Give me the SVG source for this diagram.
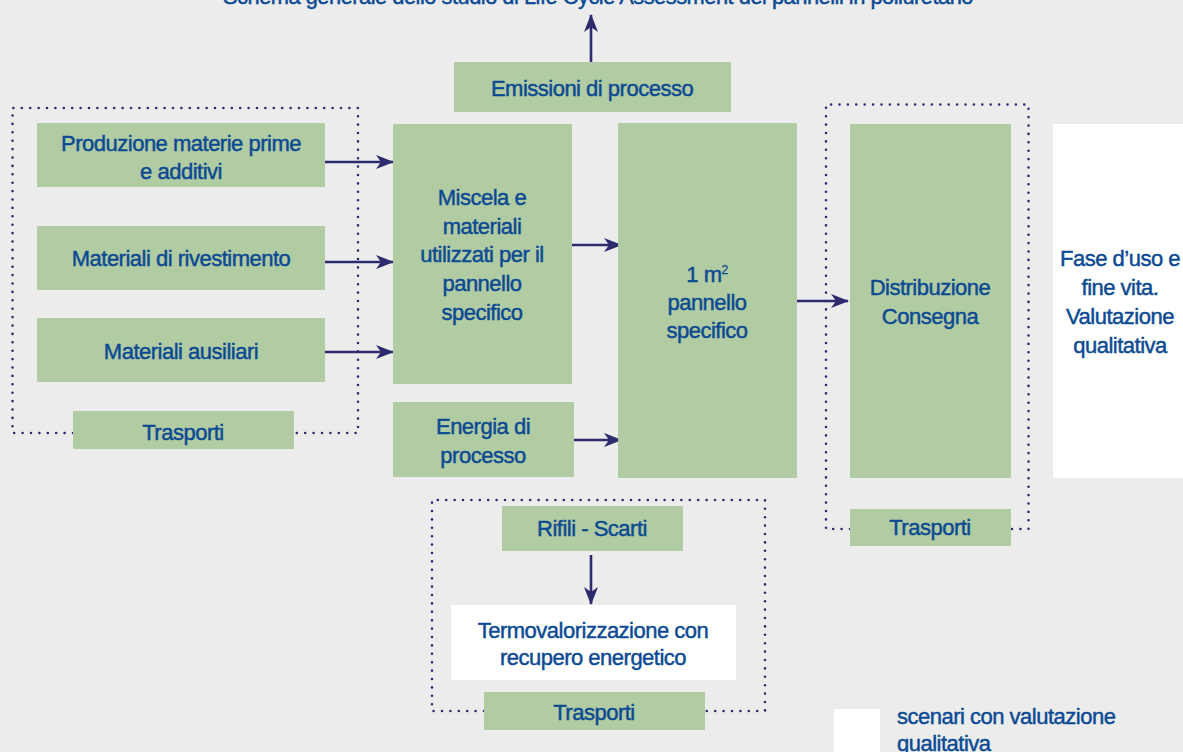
<svg xmlns="http://www.w3.org/2000/svg" width="1183" height="752" viewBox="0 0 1183 752">
<defs>
<style>
.bg{fill:#ececec}
.g{fill:#b1cba2}
.w{fill:#ffffff}
.t{font-family:"Liberation Sans",Arial,sans-serif;font-size:22px;letter-spacing:-0.5px;fill:#0b4a93;stroke:#0b4a93;stroke-width:0.45;text-anchor:middle}
.tl{text-anchor:start}
.dot{fill:none;stroke:#2d2a6e;stroke-width:2.6;stroke-linecap:round;stroke-dasharray:0 8.4}
.ar{fill:none;stroke:#2d2a6e;stroke-width:2.6}
</style>
<marker id="ah" viewBox="0 0 18 14" refX="17" refY="7" markerWidth="18" markerHeight="14" markerUnits="userSpaceOnUse" orient="auto">
<path d="M0,0 L18,7 L0,14 L5,7 Z" fill="#2d2a6e"/>
</marker>
</defs>
<rect class="bg" x="0" y="0" width="1183" height="752"/>
<text class="t" x="598" y="4" textLength="750" lengthAdjust="spacingAndGlyphs">Schema generale dello studio di Life Cycle Assessment dei pannelli in poliuretano</text>

<g id="frames">
<path class="dot" d="M73,433 L12.5,433 L12.5,108 L358,108 L358,433 L294,433"/>
<path class="dot" d="M850,529 L826,529 L826,104.5 L1028.5,104.5 L1028.5,529 L1011,529"/>
<path class="dot" d="M484,711 L432,711 L432,500 L765,500 L765,711 L705,711"/>
</g>

<g id="connectors">
<line class="ar" x1="325" y1="162" x2="393" y2="162" marker-end="url(#ah)"/>
<line class="ar" x1="325" y1="262" x2="393" y2="262" marker-end="url(#ah)"/>
<line class="ar" x1="325" y1="352" x2="393" y2="352" marker-end="url(#ah)"/>
<line class="ar" x1="572" y1="245" x2="621" y2="245" marker-end="url(#ah)"/>
<line class="ar" x1="570" y1="440" x2="621" y2="440" marker-end="url(#ah)"/>
<line class="ar" x1="797" y1="301" x2="848" y2="301" marker-end="url(#ah)"/>
<line class="ar" x1="591" y1="555" x2="591" y2="604" marker-end="url(#ah)"/>
<line class="ar" x1="591" y1="62" x2="591" y2="15" marker-end="url(#ah)"/>
</g>

<g id="emissioni"><rect class="g" x="454" y="62" width="277" height="50"/><text class="t" x="592" y="96">Emissioni di processo</text></g>
<g id="produzione"><rect class="g" x="37" y="123" width="288" height="64"/><text class="t" x="181" y="151">Produzione materie prime</text><text class="t" x="181" y="179">e additivi</text></g>
<g id="rivestimento"><rect class="g" x="37" y="226" width="288" height="64"/><text class="t" x="181" y="266">Materiali di rivestimento</text></g>
<g id="ausiliari"><rect class="g" x="37" y="318" width="288" height="64"/><text class="t" x="181" y="359">Materiali ausiliari</text></g>
<g id="trasporti1"><rect class="g" x="73" y="411" width="221" height="38"/><text class="t" x="183" y="440">Trasporti</text></g>
<g id="miscela"><rect class="g" x="393" y="124" width="179" height="260"/>
<text class="t" x="482" y="205">Miscela e</text><text class="t" x="482" y="234">materiali</text><text class="t" x="482" y="262">utilizzati per il</text><text class="t" x="482" y="291">pannello</text><text class="t" x="482" y="320">specifico</text></g>
<g id="energia"><rect class="g" x="393" y="402" width="181" height="75"/><text class="t" x="483" y="434">Energia di</text><text class="t" x="483" y="463">processo</text></g>
<g id="pannello"><rect class="g" x="618" y="123" width="179" height="355"/>
<text class="t" x="707" y="282">1 m<tspan dy="-8" font-size="12" stroke-width="0.3">2</tspan></text><text class="t" x="707" y="310">pannello</text><text class="t" x="707" y="338">specifico</text></g>
<g id="distribuzione"><rect class="g" x="850" y="124" width="161" height="354"/><text class="t" x="930" y="295">Distribuzione</text><text class="t" x="930" y="324">Consegna</text></g>
<g id="trasporti2"><rect class="g" x="850" y="509" width="161" height="37"/><text class="t" x="930" y="535">Trasporti</text></g>
<g id="fase"><rect class="w" x="1053" y="124" width="130" height="354"/>
<text class="t" x="1120" y="266">Fase d’uso e</text><text class="t" x="1120" y="295">fine vita.</text><text class="t" x="1120" y="324">Valutazione</text><text class="t" x="1120" y="353">qualitativa</text></g>
<g id="rifili"><rect class="g" x="502" y="506" width="181" height="45"/><text class="t" x="592" y="536">Rifili - Scarti</text></g>
<g id="termo"><rect class="w" x="451" y="605" width="285" height="75"/><text class="t" x="593" y="638">Termovalorizzazione con</text><text class="t" x="593" y="665">recupero energetico</text></g>
<g id="trasporti3"><rect class="g" x="484" y="692" width="221" height="38"/><text class="t" x="594" y="720">Trasporti</text></g>
<g id="legenda"><rect class="w" x="834" y="709" width="46" height="43"/><text class="t tl" x="897" y="724">scenari con valutazione</text><text class="t tl" x="897" y="751">qualitativa</text></g>
</svg>
